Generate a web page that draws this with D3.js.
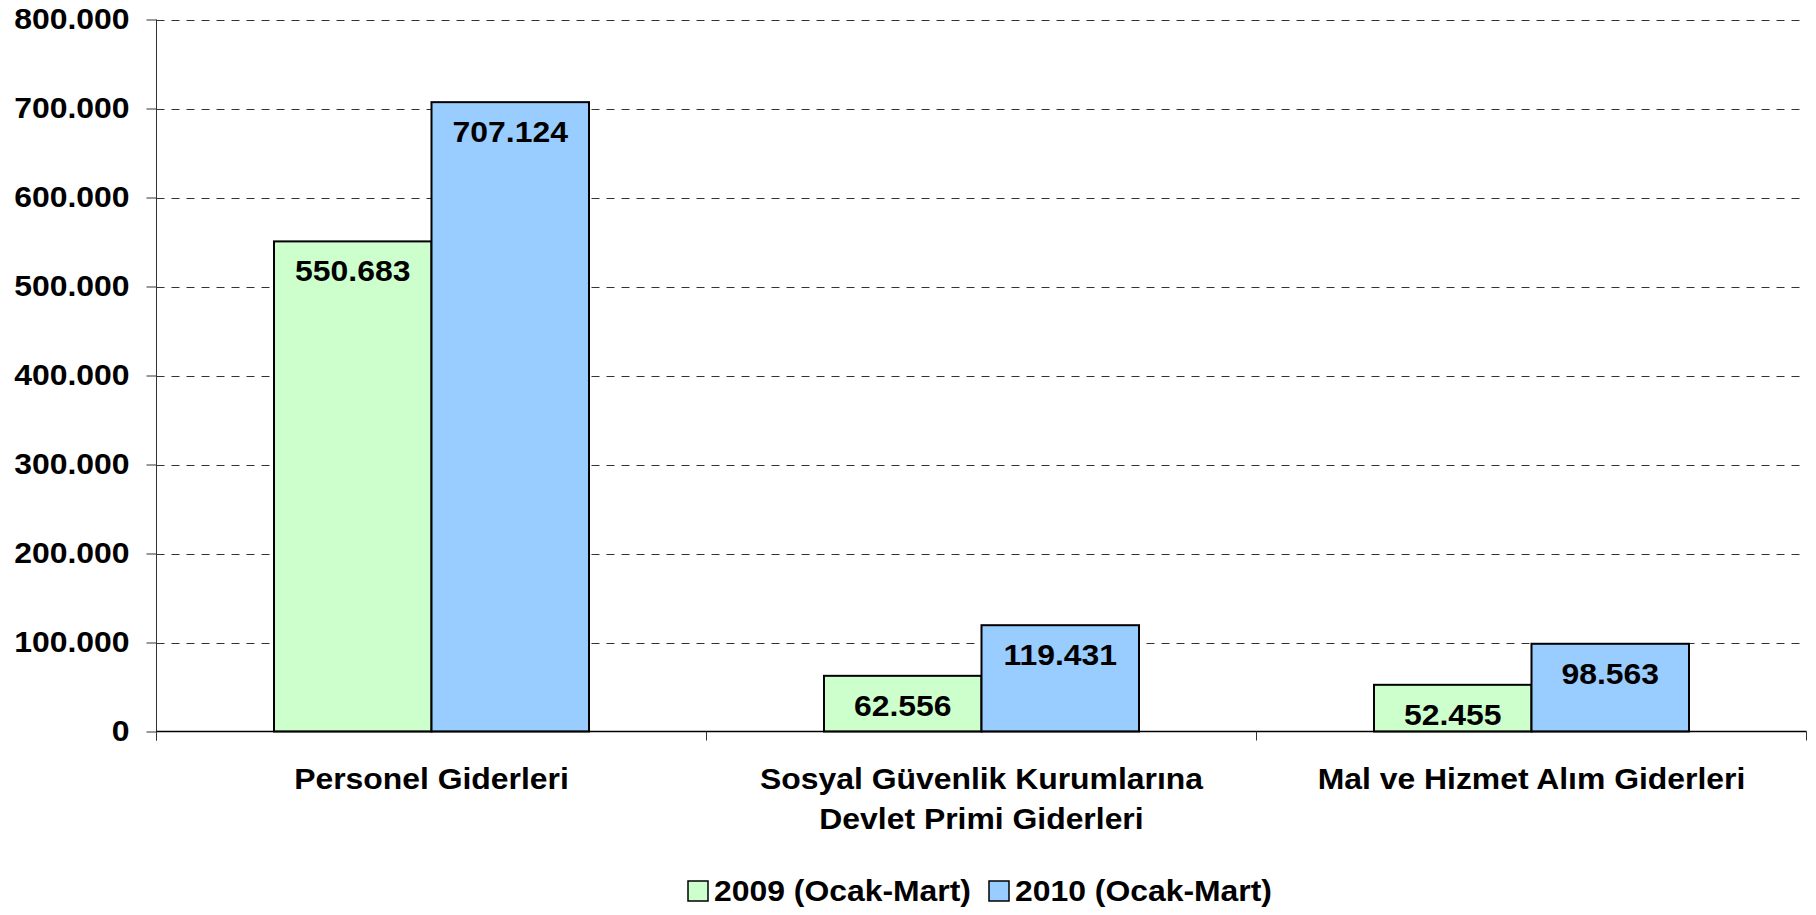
<!DOCTYPE html>
<html><head><meta charset="utf-8">
<script src="https://cdn.jsdelivr.net/npm/d3@7/dist/d3.min.js"></script>
<style>
html,body{margin:0;padding:0;background:#fff;}
text{font-family:"Liberation Sans",Arimo,Arial,sans-serif;font-weight:bold;fill:#000;}
</style></head>
<body><svg id="c" width="1816" height="915"></svg>
<script>
const categories = [["Personel Giderleri"], ["Sosyal Güvenlik Kurumlarına", "Devlet Primi Giderleri"], ["Mal ve Hizmet Alım Giderleri"]];
const seriesNames = ["2009 (Ocak-Mart)", "2010 (Ocak-Mart)"];
const values2009 = [550683, 62556, 52455];
const values2010 = [707124, 119431, 98563];
const yTicks = [0, 100000, 200000, 300000, 400000, 500000, 600000, 700000, 800000];
const colors = ["#CCFFCC", "#99CCFF"];

(function () {
const svg = d3.select("#c");
const L = 156.5, R = 1806.5, T = 19.5, B = 731.5;
const SX = 1.1;
const FF = '"Liberation Sans", Arimo, Arial, sans-serif';
const loc = d3.formatLocale({decimal: ",", thousands: ".", grouping: [3], currency: ["", ""]});
const fmt = loc.format(",d");
// horizontal stretch around anchor point (ax, ay)
const stretch = (ax, ay) => `translate(${ax},${ay}) scale(${SX},1) translate(${-ax},${-ay})`;

const y = d3.scaleLinear().domain([0, 800000]).range([B, T]);
const catIdx = categories.map((d, i) => i);
const x0 = d3.scaleBand().domain(catIdx).range([L, R]).padding(0);
const x1 = d3.scaleBand().domain([0, 1]).range([0, x0.bandwidth()]).paddingInner(0).paddingOuter(0.746);

const FS = 29;

// gridlines
const grid = svg.append("g");
grid.selectAll("line").data(yTicks.filter(v => v > 0)).join("line")
  .attr("x1", L).attr("x2", R)
  .attr("y1", d => Math.round(y(d)) + 0.5).attr("y2", d => Math.round(y(d)) + 0.5)
  .attr("stroke", "#333").attr("stroke-width", 1).attr("stroke-dasharray", "8,7");

// y axis
const yAxis = d3.axisLeft(y).tickValues(yTicks).tickFormat(fmt).tickSize(10).tickPadding(17);
const ga = svg.append("g").attr("transform", `translate(${L},0)`).call(yAxis)
  .attr("font-family", FF).attr("font-size", FS);
ga.select(".domain").attr("stroke", "#333").attr("d", `M0,${T}V${B + 9}`);
ga.selectAll(".tick line").attr("stroke", "#333");
ga.selectAll(".tick text").attr("font-size", FS).attr("font-weight", "bold").attr("fill", "#000")
  .attr("transform", stretch(-27, 0));

// bars
const data = [];
catIdx.forEach(i => { data.push({c: i, s: 0, v: values2009[i]}); data.push({c: i, s: 1, v: values2010[i]}); });
const bars = svg.append("g");
bars.selectAll("rect").data(data).join("rect")
  .attr("x", d => x0(d.c) + x1(d.s))
  .attr("y", d => y(d.v))
  .attr("width", x1.bandwidth())
  .attr("height", d => y(0) - y(d.v))
  .attr("fill", d => colors[d.s])
  .attr("stroke", "#000").attr("stroke-width", 2);

const bx = d => x0(d.c) + x1(d.s) + x1.bandwidth() / 2;
bars.selectAll("text").data(data).join("text")
  .attr("x", bx)
  .attr("y", d => y(d.v) + 40)
  .attr("transform", d => stretch(bx(d), 0))
  .attr("text-anchor", "middle").attr("font-size", FS)
  .text(d => fmt(d.v));

// x axis
const gx = svg.append("g");
gx.append("line").attr("x1", L).attr("x2", R).attr("y1", B).attr("y2", B).attr("stroke", "#000").attr("stroke-width", 1.5);
gx.selectAll("line.t").data([...catIdx, 3]).join("line").attr("class", "t")
  .attr("x1", d => (d < 3 ? x0(d) : R)).attr("x2", d => (d < 3 ? x0(d) : R))
  .attr("y1", B).attr("y2", B + 9).attr("stroke", "#333");
const cx = d => x0(d) + x0.bandwidth() / 2;
const cl = gx.selectAll("text").data(catIdx).join("text")
  .attr("x", cx)
  .attr("y", 789)
  .attr("transform", d => stretch(cx(d), 0))
  .attr("text-anchor", "middle").attr("font-size", FS);
cl.each(function(d) {
  d3.select(this).selectAll("tspan").data(categories[d]).join("tspan")
    .attr("x", cx(d)).attr("dy", (t, j) => j === 0 ? 0 : 40).text(t => t);
});

// legend
const leg = svg.append("g");
const legX = [688, 989];
seriesNames.forEach((n, i) => {
  leg.append("rect").attr("x", legX[i]).attr("y", 881).attr("width", 20).attr("height", 20)
    .attr("fill", colors[i]).attr("stroke", "#000").attr("stroke-width", 1.5);
  leg.append("text").attr("x", legX[i] + 26).attr("y", 901).attr("font-size", FS)
    .attr("transform", stretch(legX[i] + 26, 0)).text(n);
});
})();
</script></body></html>
